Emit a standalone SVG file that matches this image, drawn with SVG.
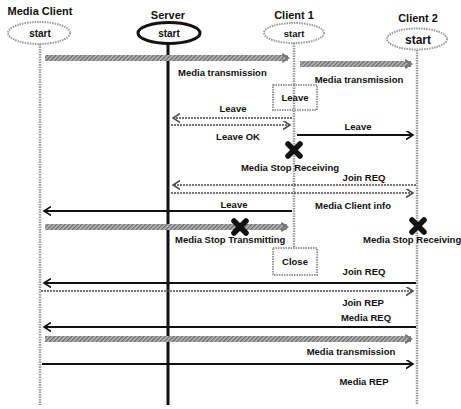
<svg xmlns="http://www.w3.org/2000/svg" width="461" height="409" viewBox="0 0 461 409">
<style>
text{font-family:"Liberation Sans",Arial,sans-serif;font-weight:bold;fill:#111;}
.t{font-size:11px;text-anchor:middle;}
.l{font-size:9.5px;text-anchor:middle;}
.ls{font-size:9.5px;text-anchor:start;}
.life{stroke:#9a9a9a;stroke-width:2.5;stroke-dasharray:1.5 1;fill:none;}
.hatch{stroke:url(#hp);stroke-width:6;fill:none;}
.dot{stroke:#4a4a4a;stroke-width:1.6;stroke-dasharray:2 1;fill:none;}
.sol{stroke:#111;stroke-width:1.8;fill:none;}
.box{fill:#fff;stroke:#9a9a9a;stroke-width:2;stroke-dasharray:1.5 1;}
.x{stroke:#111;stroke-width:5.5;stroke-linecap:round;}
</style>
<defs>
<pattern id="hp" width="3" height="3" patternUnits="userSpaceOnUse" patternTransform="rotate(45)">
<rect width="3" height="3" fill="#bdbdbd"/><rect width="1.4" height="3" fill="#6a6a6a"/>
</pattern>
<marker id="a" markerWidth="10" markerHeight="10" refX="7" refY="4.5" orient="auto" markerUnits="userSpaceOnUse">
<path d="M0,0 L7,4.5 L0,9" fill="none" stroke="#111" stroke-width="1.6"/>
</marker>
<marker id="ad" markerWidth="10" markerHeight="10" refX="7" refY="4.5" orient="auto" markerUnits="userSpaceOnUse">
<path d="M0,0 L7,4.5 L0,9" fill="none" stroke="#4a4a4a" stroke-width="1.5"/>
</marker>
<marker id="ah" markerWidth="12" markerHeight="12" refX="6" refY="5" orient="auto" markerUnits="userSpaceOnUse">
<path d="M0,1 L6,5 L0,9" fill="none" stroke="#777" stroke-width="2.2"/>
</marker>
</defs>

<g id="media-client">
<text class="t" x="40" y="15">Media Client</text>
<ellipse cx="39" cy="33" rx="31" ry="11" fill="#fff" stroke="#9a9a9a" stroke-width="2" stroke-dasharray="1.5 1"/>
<text class="l" x="40" y="37" style="font-size:10px">start</text>
<line class="life" x1="40" y1="44" x2="40" y2="405"/>
</g>

<g id="server">
<text class="t" x="168" y="19">Server</text>
<line x1="168" y1="43" x2="168" y2="405" stroke="#111" stroke-width="3"/>
<ellipse cx="169" cy="33" rx="31" ry="10.5" fill="#fff" stroke="#111" stroke-width="3"/>
<text class="l" x="169" y="37" style="font-size:10px">start</text>
</g>

<g id="client1">
<text class="t" x="294" y="19">Client 1</text>
<ellipse cx="294" cy="33" rx="30" ry="10" fill="#fff" stroke="#9a9a9a" stroke-width="2" stroke-dasharray="1.5 1"/>
<text class="l" x="294" y="37">start</text>
<line class="life" x1="294" y1="43" x2="294" y2="248"/>
</g>

<g id="client2">
<text class="t" x="418" y="22">Client 2</text>
<ellipse cx="417" cy="39" rx="30" ry="10.5" fill="#fff" stroke="#9a9a9a" stroke-width="2" stroke-dasharray="1.5 1"/>
<text class="l" x="418" y="44" style="font-size:12px">start</text>
<line class="life" x1="417" y1="50" x2="417" y2="405"/>
</g>

<g id="leave-box">
<rect class="box" x="273" y="85" width="44" height="25"/>
<line class="life" x1="294" y1="85" x2="294" y2="110"/>
<text class="l" x="295" y="101">Leave</text>
</g>

<g id="close-box">
<rect class="box" x="273" y="248" width="44" height="27"/>
<text class="l" x="295" y="265">Close</text>
</g>

<g id="connectors">
<line class="hatch" x1="45" y1="58" x2="288" y2="58" marker-end="url(#ah)"/>
<line class="hatch" x1="300" y1="64" x2="411" y2="64" marker-end="url(#ah)"/>
<line class="dot" x1="292" y1="118" x2="173" y2="118" marker-end="url(#ad)"/>
<line class="dot" x1="171" y1="125" x2="290" y2="125" marker-end="url(#ad)"/>
<line class="sol" x1="297" y1="135" x2="413" y2="135" marker-end="url(#a)"/>
<line class="dot" x1="416" y1="185" x2="173" y2="185" marker-end="url(#ad)"/>
<line class="dot" x1="171" y1="193" x2="413" y2="193" marker-end="url(#ad)"/>
<line class="sol" x1="292" y1="211" x2="44" y2="211" marker-end="url(#a)"/>
<line class="hatch" x1="45" y1="227" x2="287" y2="227" marker-end="url(#ah)"/>
<line class="sol" x1="416" y1="283" x2="44" y2="283" marker-end="url(#a)"/>
<line class="dot" x1="41" y1="291" x2="413" y2="291" marker-end="url(#ad)"/>
<line class="sol" x1="416" y1="327" x2="44" y2="327" marker-end="url(#a)"/>
<line class="hatch" x1="45" y1="339" x2="411" y2="339" marker-end="url(#ah)"/>
<line class="sol" x1="42" y1="364" x2="413" y2="364" marker-end="url(#a)"/>
</g>

<g id="stops">
<path class="x" d="M288,144 L300,156 M300,144 L288,156"/>
<path class="x" d="M234,221 L246,233 M246,221 L234,233"/>
<path class="x" d="M412,220 L424,232 M424,220 L412,232"/>
</g>

<g id="labels">
<text class="ls" x="178" y="76">Media transmission</text>
<text class="l" x="359" y="83">Media transmission</text>
<text class="l" x="233" y="112">Leave</text>
<text class="l" x="238" y="140">Leave OK</text>
<text class="l" x="358" y="130">Leave</text>
<text class="l" x="290" y="171">Media Stop Receiving</text>
<text class="l" x="364" y="181">Join REQ</text>
<text class="l" x="353" y="209">Media Client info</text>
<text class="l" x="234" y="208">Leave</text>
<text class="ls" x="175" y="243">Media Stop Transmitting</text>
<text class="ls" x="363" y="243">Media Stop Receiving</text>
<text class="l" x="364" y="275">Join REQ</text>
<text class="l" x="363" y="306">Join REP</text>
<text class="l" x="366" y="321">Media REQ</text>
<text class="l" x="351" y="355">Media transmission</text>
<text class="l" x="364" y="385">Media REP</text>
</g>
</svg>
